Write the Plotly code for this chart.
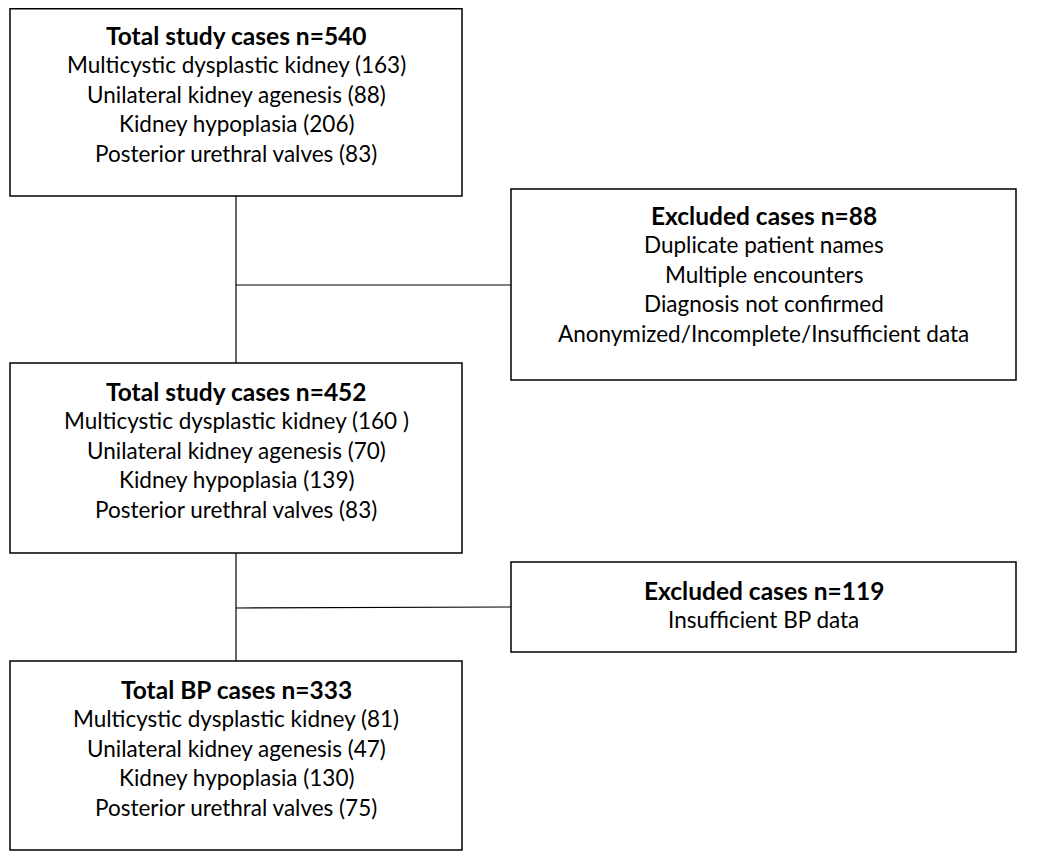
import plotly.graph_objects as go

# ---- data ----
categories = ["Multicystic dysplastic kidney", "Unilateral kidney agenesis",
              "Kidney hypoplasia", "Posterior urethral valves"]
stage1_title = "Total study cases n=540"
stage1_counts = ["163", "88", "206", "83"]
stage2_title = "Total study cases n=452"
stage2_counts = ["160 ", "70", "139", "83"]
stage3_title = "Total BP cases n=333"
stage3_counts = ["81", "47", "130", "75"]
excl1_title = "Excluded cases n=88"
excl1_reasons = ["Duplicate patient names", "Multiple encounters",
                 "Diagnosis not confirmed", "Anonymized/Incomplete/Insufficient data"]
excl2_title = "Excluded cases n=119"
excl2_reasons = ["Insufficient BP data"]

W, H = 1050, 857
OFF = 8  # page body margin
FONT = "Lato, Carlito, Calibri, sans-serif"
FS = 22.5
FST = 24.5
LINE = 29.6

fig = go.Figure()
fig.add_trace(go.Scatter(x=[OFF, W], y=[OFF, H], mode="markers", marker=dict(opacity=0),
                         hoverinfo="skip", showlegend=False))

def box(x0, y0, x1, y1):
    fig.add_shape(type="rect", x0=x0, y0=y0, x1=x1, y1=y1,
                  line=dict(color="black", width=1.5), fillcolor="white", layer="below")

def text_block(cx, ytitle, title, lines):
    fig.add_annotation(x=cx, y=ytitle, text="<b>" + title + "</b>", showarrow=False,
                       font=dict(family=FONT, size=FST, color="black"),
                       xanchor="center", yanchor="middle")
    for i, t in enumerate(lines):
        fig.add_annotation(x=cx, y=ytitle + LINE * (i + 1), text=t, showarrow=False,
                           font=dict(family=FONT, size=FS, color="black"),
                           xanchor="center", yanchor="middle")

def line(x0, y0, x1, y1):
    fig.add_shape(type="line", x0=x0, y0=y0, x1=x1, y1=y1,
                  line=dict(color="black", width=1.2), layer="below")

# connectors
line(236, 196, 236, 363)
line(236, 285, 511, 285)
line(236, 553, 236, 661)
line(236, 608, 511, 607)

# boxes
box(10, 8.8, 462, 196)
box(511, 189, 1016, 380)
box(10, 363, 462, 553)
box(511, 562, 1016, 652)
box(10, 661, 462, 850)

text_block(236, 35, stage1_title, [f"{c} ({n})" for c, n in zip(categories, stage1_counts)])
text_block(236, 391, stage2_title, [f"{c} ({n})" for c, n in zip(categories, stage2_counts)])
text_block(236, 689, stage3_title, [f"{c} ({n})" for c, n in zip(categories, stage3_counts)])
text_block(763.5, 215, excl1_title, excl1_reasons)
text_block(763.5, 590, excl2_title, excl2_reasons)

fig.update_layout(
    width=W - OFF, height=H - OFF, margin=dict(l=0, r=0, t=0, b=0),
    paper_bgcolor="white", plot_bgcolor="white",
    xaxis=dict(range=[OFF, W], visible=False, fixedrange=True),
    yaxis=dict(range=[H, OFF], visible=False, fixedrange=True),
    showlegend=False,
)
fig.write_html("out.html")
